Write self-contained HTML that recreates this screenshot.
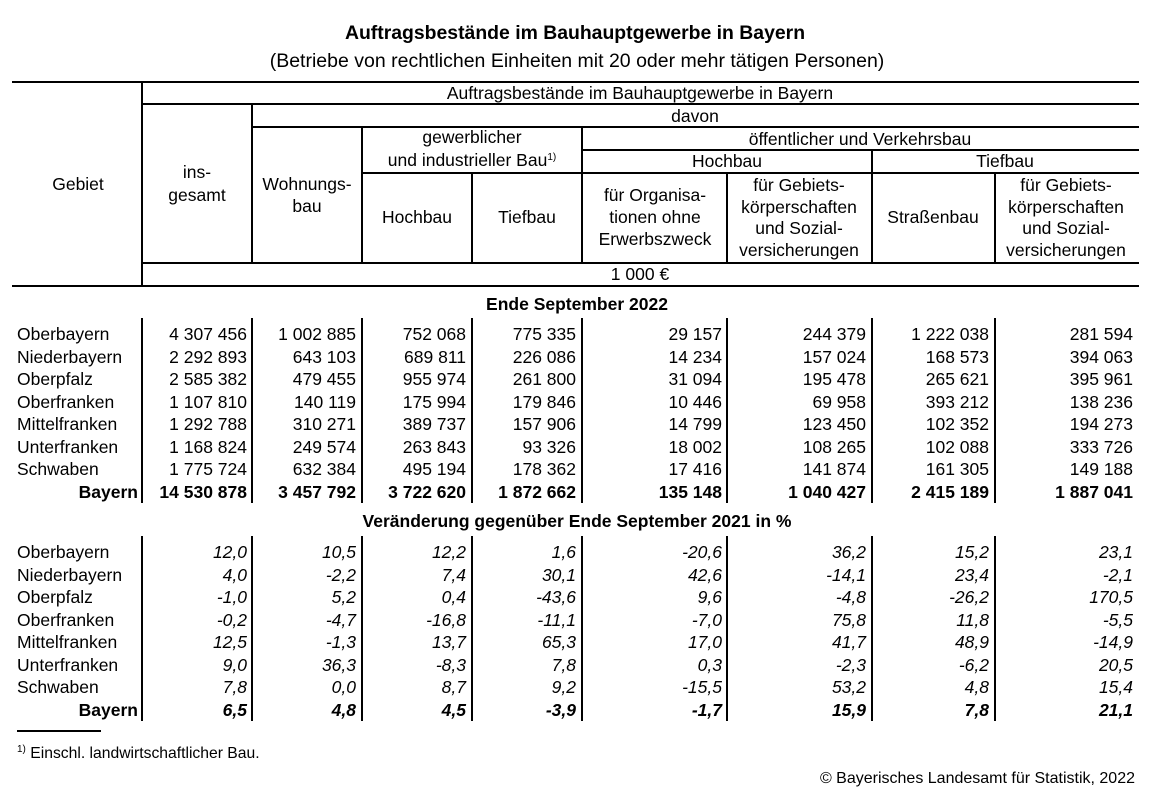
<!DOCTYPE html>
<html><head><meta charset="utf-8">
<style>
html,body{margin:0;padding:0;background:#fff;}
body{width:1158px;height:809px;position:relative;overflow:hidden;font-family:"Liberation Sans",Arial,sans-serif;color:#000;}
.t{position:absolute;white-space:nowrap;line-height:20px;height:20px;font-size:17.5px;}
.c{transform:translateX(-50%);}
.r{transform:translateX(-100%);}
.hl{position:absolute;height:2px;background:#000;}
.vl{position:absolute;width:2px;background:#000;}
.b{font-weight:bold;}
.i{font-style:italic;}
</style></head><body>
<div class="t c b" style="left:575px;top:23px;font-size:19.4px;">Auftragsbestände im Bauhauptgewerbe in Bayern</div>
<div class="t c" style="left:577px;top:51px;font-size:19.5px;">(Betriebe von rechtlichen Einheiten mit 20 oder mehr tätigen Personen)</div>
<div id="tbl"></div>
<div class="hl" style="left:17px;top:730px;width:84px;"></div>
<div class="t" style="left:17px;top:740px;font-size:15.7px;"><sup style="font-size:10px;vertical-align:6px;">1)</sup> Einschl. landwirtschaftlicher Bau.</div>
<div class="t r" style="left:1135px;top:769px;font-size:16px;">© Bayerisches Landesamt für Statistik, 2022</div>
<script>
const regions=["Oberbayern","Niederbayern","Oberpfalz","Oberfranken","Mittelfranken","Unterfranken","Schwaben","Bayern"];
const abs2022=[
["4 307 456","1 002 885","752 068","775 335","29 157","244 379","1 222 038","281 594"],
["2 292 893","643 103","689 811","226 086","14 234","157 024","168 573","394 063"],
["2 585 382","479 455","955 974","261 800","31 094","195 478","265 621","395 961"],
["1 107 810","140 119","175 994","179 846","10 446","69 958","393 212","138 236"],
["1 292 788","310 271","389 737","157 906","14 799","123 450","102 352","194 273"],
["1 168 824","249 574","263 843","93 326","18 002","108 265","102 088","333 726"],
["1 775 724","632 384","495 194","178 362","17 416","141 874","161 305","149 188"],
["14 530 878","3 457 792","3 722 620","1 872 662","135 148","1 040 427","2 415 189","1 887 041"]];
const pct=[
["12,0","10,5","12,2","1,6","-20,6","36,2","15,2","23,1"],
["4,0","-2,2","7,4","30,1","42,6","-14,1","23,4","-2,1"],
["-1,0","5,2","0,4","-43,6","9,6","-4,8","-26,2","170,5"],
["-0,2","-4,7","-16,8","-11,1","-7,0","75,8","11,8","-5,5"],
["12,5","-1,3","13,7","65,3","17,0","41,7","48,9","-14,9"],
["9,0","36,3","-8,3","7,8","0,3","-2,3","-6,2","20,5"],
["7,8","0,0","8,7","9,2","-15,5","53,2","4,8","15,4"],
["6,5","4,8","4,5","-3,9","-1,7","15,9","7,8","21,1"]];
const T=document.getElementById('tbl');
function txt(s,x,y,cls,name,size){const d=document.createElement('div');d.className='t '+cls;d.innerHTML=s;d.style.left=x+'px';d.style.top=(y-10)+'px';if(size)d.style.fontSize=size+'px';


T.appendChild(d);}
function hl(x1,x2,y){const d=document.createElement('div');d.className='hl';d.style.left=x1+'px';d.style.width=(x2-x1)+'px';d.style.top=(y-1)+'px';


T.appendChild(d);}
function vl(x,y1,y2){const d=document.createElement('div');d.className='vl';d.style.left=(x-1)+'px';d.style.top=y1+'px';d.style.height=(y2-y1)+'px';


T.appendChild(d);}
hl(12,1139,82);hl(142,1139,104);hl(252,1139,127);hl(582,1139,150);hl(362,1139,173);hl(142,1139,263);hl(12,1139,286);
vl(142,82,287);vl(252,104,263);vl(362,127,263);vl(472,173,263);vl(582,127,263);vl(727,173,263);vl(872,150,263);vl(995,173,263);
txt("Gebiet",78,184,'c','header-gebiet');
txt("Auftragsbestände im Bauhauptgewerbe in Bayern",640,93,'c','header-main');
txt("davon",695,116,'c','header-davon');
txt("ins-",197,172,'c','header-insgesamt');txt("gesamt",197,195,'c','header-insgesamt-2');
txt("Wohnungs-",307,184,'c','header-wohnungsbau');txt("bau",307,206,'c','header-wohnungsbau-2');
txt("gewerblicher",472,137,'c','header-gewerblich');
txt('und industrieller Bau<sup style="font-size:10px;vertical-align:6px;line-height:0">1)</sup>',472,160,'c','header-gewerblich-2');
txt("Hochbau",417,217,'c','header-gew-hochbau');txt("Tiefbau",527,217,'c','header-gew-tiefbau');
txt("öffentlicher und Verkehrsbau",860,139,'c','header-oeffentlich');
txt("Hochbau",727,161,'c','header-oeff-hochbau');txt("Tiefbau",1005,161,'c','header-oeff-tiefbau');
["für Organisa-","tionen ohne","Erwerbszweck"].forEach((s,i)=>txt(s,655,195+i*22,'c','header-organisationen'));
["für Gebiets-","körperschaften","und Sozial-","versicherungen"].forEach((s,i)=>txt(s,799,185+i*21.7,'c','header-gebietskoerperschaften-hoch'));
txt("Straßenbau",933,217,'c','header-strassenbau');
["für Gebiets-","körperschaften","und Sozial-","versicherungen"].forEach((s,i)=>txt(s,1066,185+i*21.7,'c','header-gebietskoerperschaften-tief'));
txt("1 000 €",640,274,'c','header-unit');
const colR=[247,356,466,576,722,866,989,1133];
const colL=[142,252,362,472,582,727,872,995];
function section(title,ty,y0,data,ital){
 txt(title,577,ty,'c b','section-title');
 colL.forEach(x=>vl(x,y0-16,y0+22.5*7+11));
 regions.forEach((r,i)=>{const y=y0+i*22.5;const last=i==regions.length-1;
  if(last)txt(r,138,y,'r b','region-label');else txt(r,17,y,'','region-label');
  data[i].forEach((v,j)=>txt(v,colR[j],y,'r'+(last?' b':'')+(ital?' i':''),'cell-value'));});
}
section("Ende September 2022",304,334,abs2022,false);
section("Veränderung gegenüber Ende September 2021 in %",521,552,pct,true);
</script>
</body></html>
